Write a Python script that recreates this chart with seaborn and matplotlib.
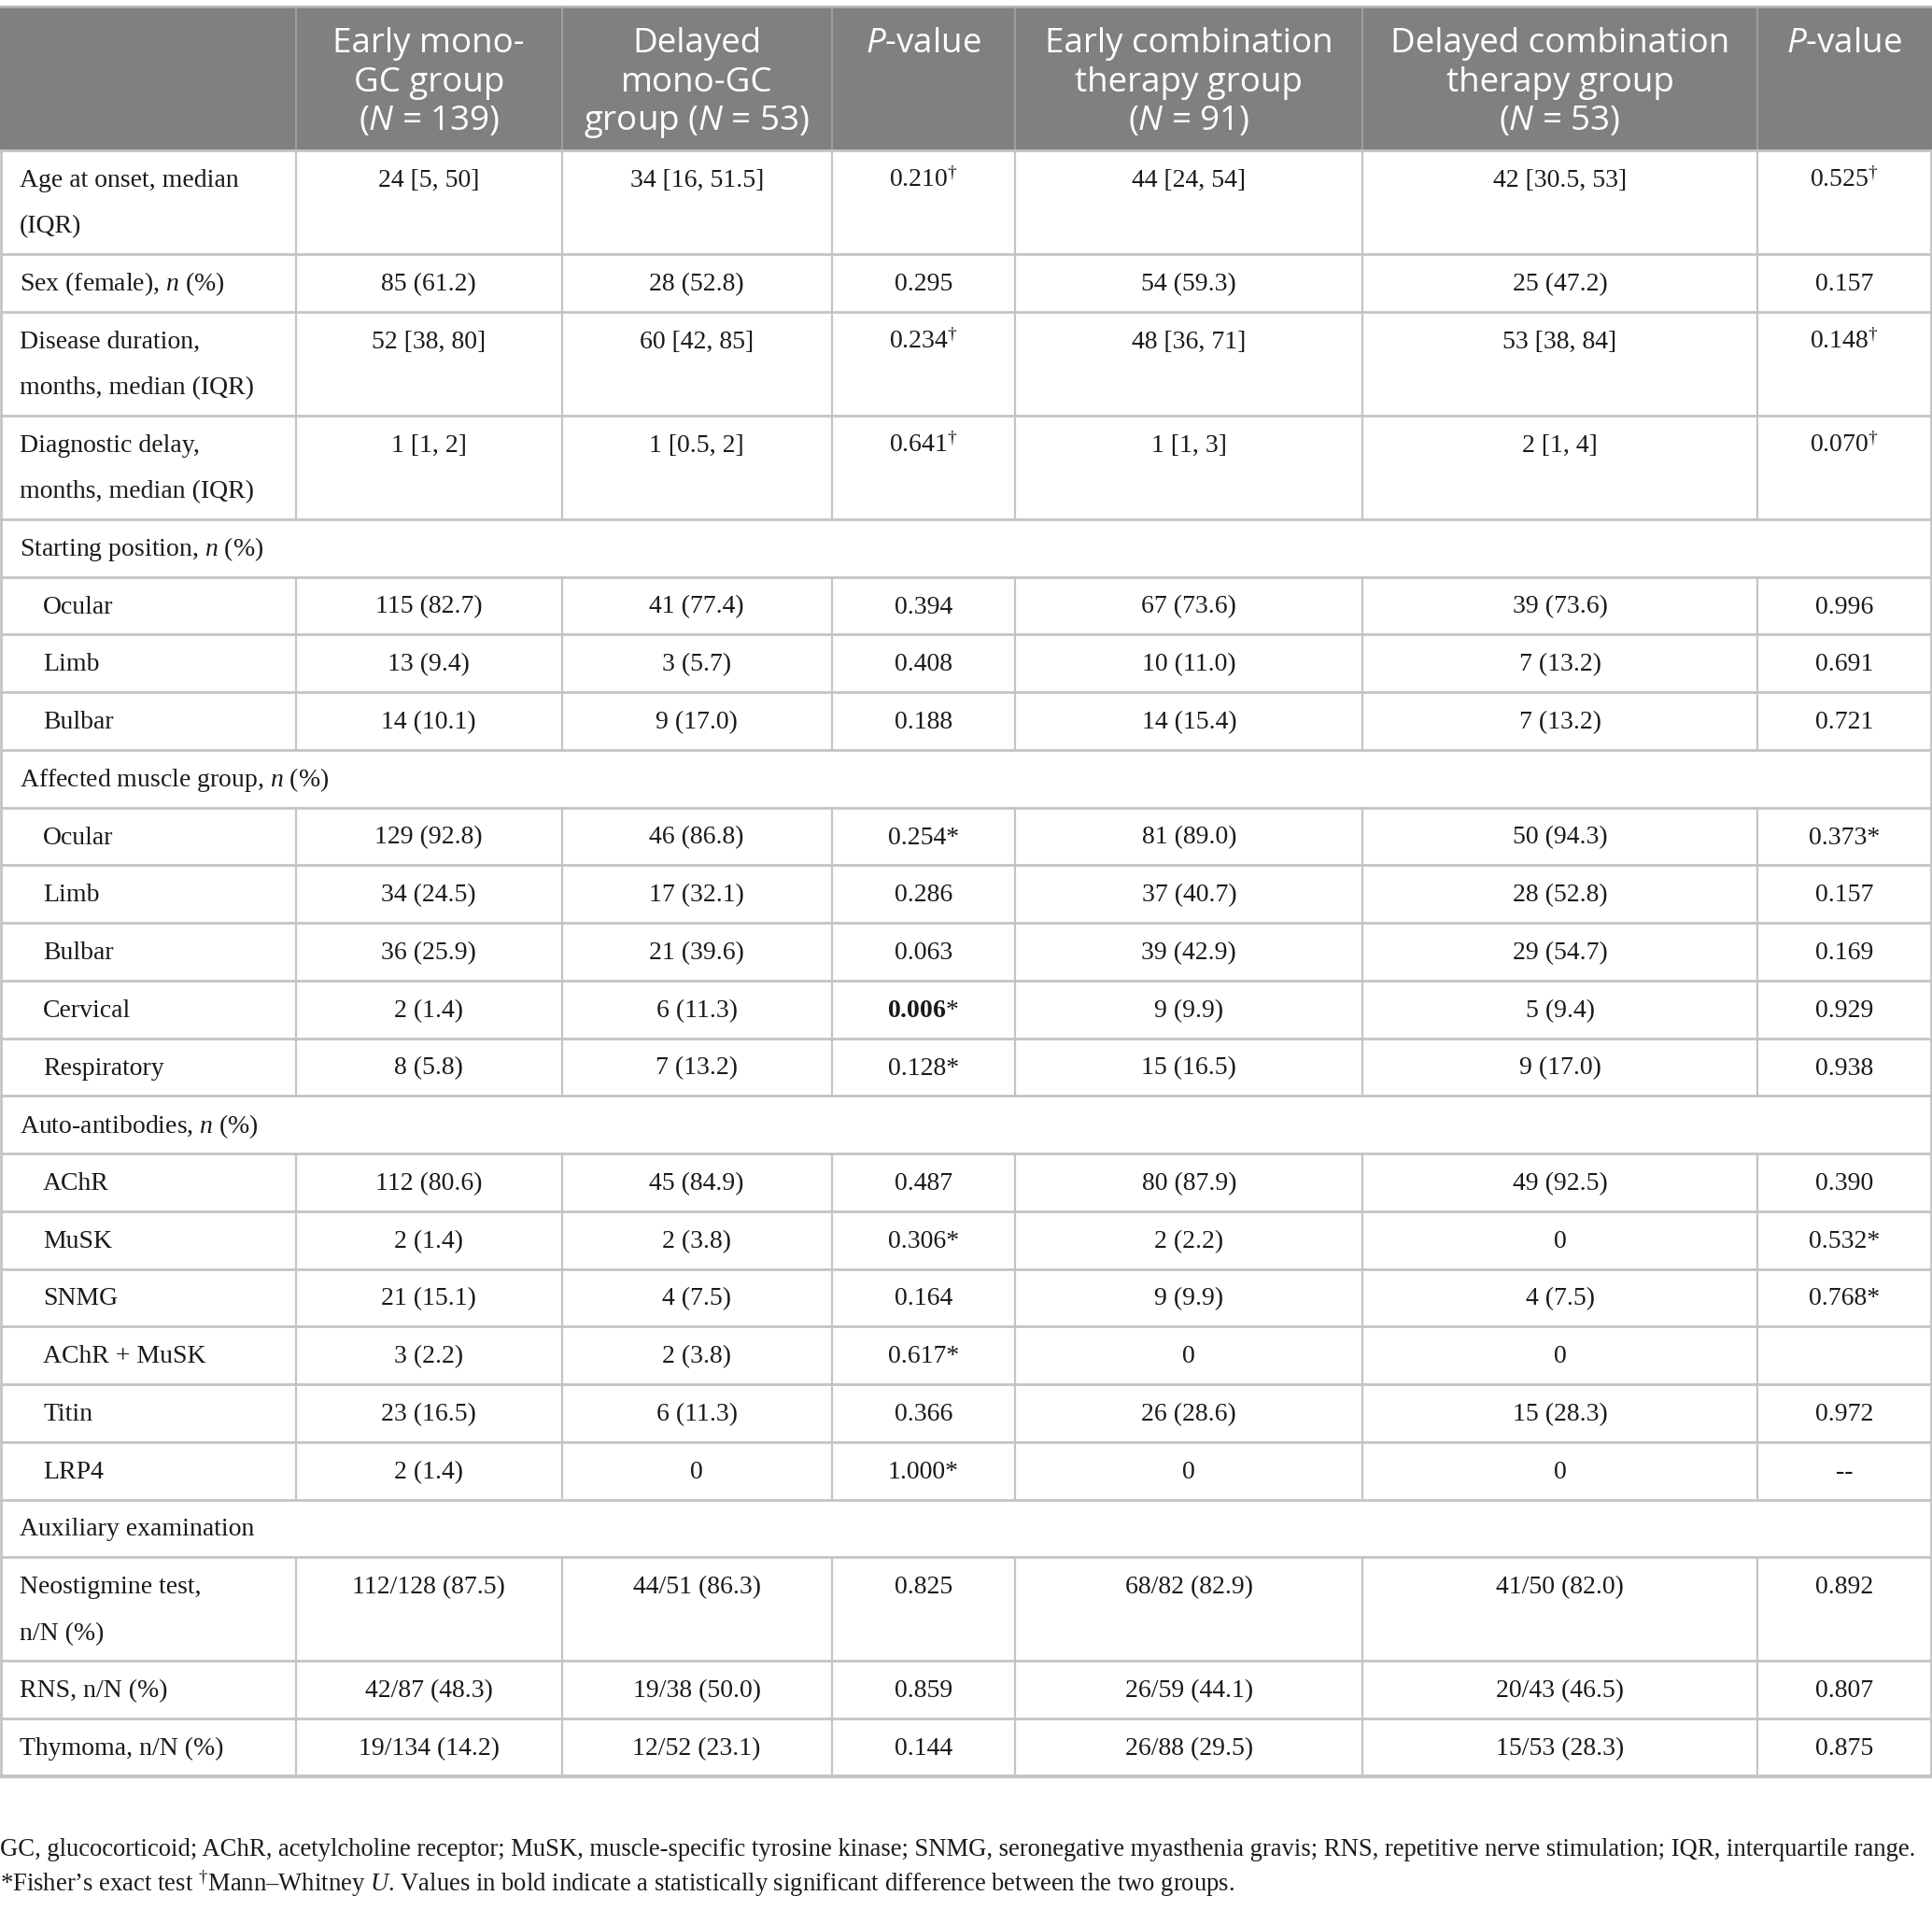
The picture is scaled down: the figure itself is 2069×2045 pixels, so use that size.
import matplotlib
matplotlib.use("Agg")
import matplotlib.pyplot as plt
import seaborn as sns
from matplotlib.patches import Rectangle

sns.set_theme(style="white")
plt.rcParams['font.family'] = ['Liberation Serif', 'DejaVu Serif']
plt.rcParams['mathtext.fontset'] = 'custom'
plt.rcParams['mathtext.rm'] = 'Liberation Serif'
plt.rcParams['mathtext.it'] = 'Liberation Serif:italic'
plt.rcParams['mathtext.bf'] = 'Liberation Serif:bold'
plt.rcParams['mathtext.sf'] = 'Open Sans:italic'

# ---------------- data ----------------
header_lines = [
    ["Early mono-", "GC group", "($\\mathsf{N}$ = 139)"],
    ["Delayed", "mono-GC", "group ($\\mathsf{N}$ = 53)"],
    ["$\\mathsf{P}$-value"],
    ["Early combination", "therapy group", "($\\mathsf{N}$ = 91)"],
    ["Delayed combination", "therapy group", "($\\mathsf{N}$ = 53)"],
    ["$\\mathsf{P}$-value"],
]

row_labels = [
    "Age at onset, median\n(IQR)", "Sex (female), $n$ (%)",
    "Disease duration,\nmonths, median (IQR)", "Diagnostic delay,\nmonths, median (IQR)",
    "Starting position, $n$ (%)", "Ocular", "Limb", "Bulbar",
    "Affected muscle group, $n$ (%)", "Ocular", "Limb", "Bulbar", "Cervical", "Respiratory",
    "Auto-antibodies, $n$ (%)", "AChR", "MuSK", "SNMG", "AChR + MuSK", "Titin", "LRP4",
    "Auxiliary examination", "Neostigmine test,\nn/N (%)", "RNS, n/N (%)", "Thymoma, n/N (%)",
]
row_kinds = [
    "double", "single", "double", "double",
    "section", "sub", "sub", "sub",
    "section", "sub", "sub", "sub", "sub", "sub",
    "section", "sub", "sub", "sub", "sub", "sub", "sub",
    "section", "double", "single", "single",
]

early_mono = ["24 [5, 50]", "85 (61.2)", "52 [38, 80]", "1 [1, 2]",
              "", "115 (82.7)", "13 (9.4)", "14 (10.1)",
              "", "129 (92.8)", "34 (24.5)", "36 (25.9)", "2 (1.4)", "8 (5.8)",
              "", "112 (80.6)", "2 (1.4)", "21 (15.1)", "3 (2.2)", "23 (16.5)", "2 (1.4)",
              "", "112/128 (87.5)", "42/87 (48.3)", "19/134 (14.2)"]
delayed_mono = ["34 [16, 51.5]", "28 (52.8)", "60 [42, 85]", "1 [0.5, 2]",
                "", "41 (77.4)", "3 (5.7)", "9 (17.0)",
                "", "46 (86.8)", "17 (32.1)", "21 (39.6)", "6 (11.3)", "7 (13.2)",
                "", "45 (84.9)", "2 (3.8)", "4 (7.5)", "2 (3.8)", "6 (11.3)", "0",
                "", "44/51 (86.3)", "19/38 (50.0)", "12/52 (23.1)"]
p_mono = ["0.210$^{\\dagger}$", "0.295", "0.234$^{\\dagger}$", "0.641$^{\\dagger}$",
          "", "0.394", "0.408", "0.188",
          "", "0.254*", "0.286", "0.063", "$\\mathbf{0.006}$*", "0.128*",
          "", "0.487", "0.306*", "0.164", "0.617*", "0.366", "1.000*",
          "", "0.825", "0.859", "0.144"]
early_comb = ["44 [24, 54]", "54 (59.3)", "48 [36, 71]", "1 [1, 3]",
              "", "67 (73.6)", "10 (11.0)", "14 (15.4)",
              "", "81 (89.0)", "37 (40.7)", "39 (42.9)", "9 (9.9)", "15 (16.5)",
              "", "80 (87.9)", "2 (2.2)", "9 (9.9)", "0", "26 (28.6)", "0",
              "", "68/82 (82.9)", "26/59 (44.1)", "26/88 (29.5)"]
delayed_comb = ["42 [30.5, 53]", "25 (47.2)", "53 [38, 84]", "2 [1, 4]",
                "", "39 (73.6)", "7 (13.2)", "7 (13.2)",
                "", "50 (94.3)", "28 (52.8)", "29 (54.7)", "5 (9.4)", "9 (17.0)",
                "", "49 (92.5)", "0", "4 (7.5)", "0", "15 (28.3)", "0",
                "", "41/50 (82.0)", "20/43 (46.5)", "15/53 (28.3)"]
p_comb = ["0.525$^{\\dagger}$", "0.157", "0.148$^{\\dagger}$", "0.070$^{\\dagger}$",
          "", "0.996", "0.691", "0.721",
          "", "0.373*", "0.157", "0.169", "0.929", "0.938",
          "", "0.390", "0.532*", "0.768*", "", "0.972", "--",
          "", "0.892", "0.807", "0.875"]

footnotes = [
    "GC, glucocorticoid; AChR, acetylcholine receptor; MuSK, muscle-specific tyrosine kinase; SNMG, seronegative myasthenia gravis; RNS, repetitive nerve stimulation; IQR, interquartile range.",
    "*Fisher\u2019s exact test $^{\\dagger}$Mann\u2013Whitney $U$. Values in bold indicate a statistically significant difference between the two groups.",
]

columns = [early_mono, delayed_mono, p_mono, early_comb, delayed_comb, p_comb]

# ---------------- layout ----------------
col_edges = [0, 240, 456, 675, 824, 1106, 1426, 1568]
W, H = 1568, 1550
header_top, header_bot = 6, 122
single_h, double_h = 46.8, 84.2

fig = plt.figure(figsize=(20.69, 20.45), dpi=100)
ax = fig.add_axes([0, 0, 1, 1])
ax.set_xlim(0, W)
ax.set_ylim(H, 0)
ax.axis("off")

line_c = "#c4c4c4"
text_c = "#1a1a1a"
body_fs = 20
head_fs = 26.5

# header
ax.add_patch(Rectangle((0, header_top), W, header_bot - header_top,
                       facecolor="#7f807f", edgecolor="none", zorder=1))
ax.plot([0, W], [header_top - 1, header_top - 1], color="#b0b0b0", lw=2, zorder=2)
for x in col_edges[1:-1]:
    ax.plot([x, x], [header_top, header_bot], color="#a5a5a5", lw=1.2, zorder=2)
for ci, lines in enumerate(header_lines):
    xc = (col_edges[ci + 1] + col_edges[ci + 2]) / 2
    for li, t in enumerate(lines):
        ax.text(xc, header_top + 30 + li * 31.3, t, ha="center", va="center",
                fontsize=head_fs, color="white", family=["Open Sans", "DejaVu Sans"],
                zorder=3)

# body rows
y = header_bot
ax.plot([0, W], [y, y], color=line_c, lw=2, zorder=2)
for ri, (lab, kind) in enumerate(zip(row_labels, row_kinds)):
    h = double_h if kind == "double" else single_h
    top, bot = y, y + h
    ax.plot([1, 1], [top, bot], color=line_c, lw=2, zorder=2)
    ax.plot([W - 1, W - 1], [top, bot], color=line_c, lw=2, zorder=2)
    if kind != "section":
        for x in col_edges[1:-1]:
            ax.plot([x, x], [top, bot], color=line_c, lw=1.6, zorder=2)
    lx = 35 if kind == "sub" else 16
    for li, part in enumerate(lab.split("\n")):
        ax.text(lx, top + 24.5 + li * 37.5, part, ha="left", va="center",
                fontsize=body_fs, color=text_c, zorder=3)
    for ci, col in enumerate(columns):
        val = col[ri]
        if val:
            xc = (col_edges[ci + 1] + col_edges[ci + 2]) / 2
            ax.text(xc, top + 24.5, val, ha="center", va="center",
                    fontsize=body_fs, color=text_c, zorder=3)
    y = bot
    ax.plot([0, W], [y, y], color=line_c, lw=2 if ri < len(row_labels) - 1 else 3, zorder=2)

# footnotes
for fi, t in enumerate(footnotes):
    ax.text(0, 1501 + fi * 27.5, t, ha="left", va="center",
            fontsize=19.2, color=text_c)

fig.savefig("out.png", dpi=100)
